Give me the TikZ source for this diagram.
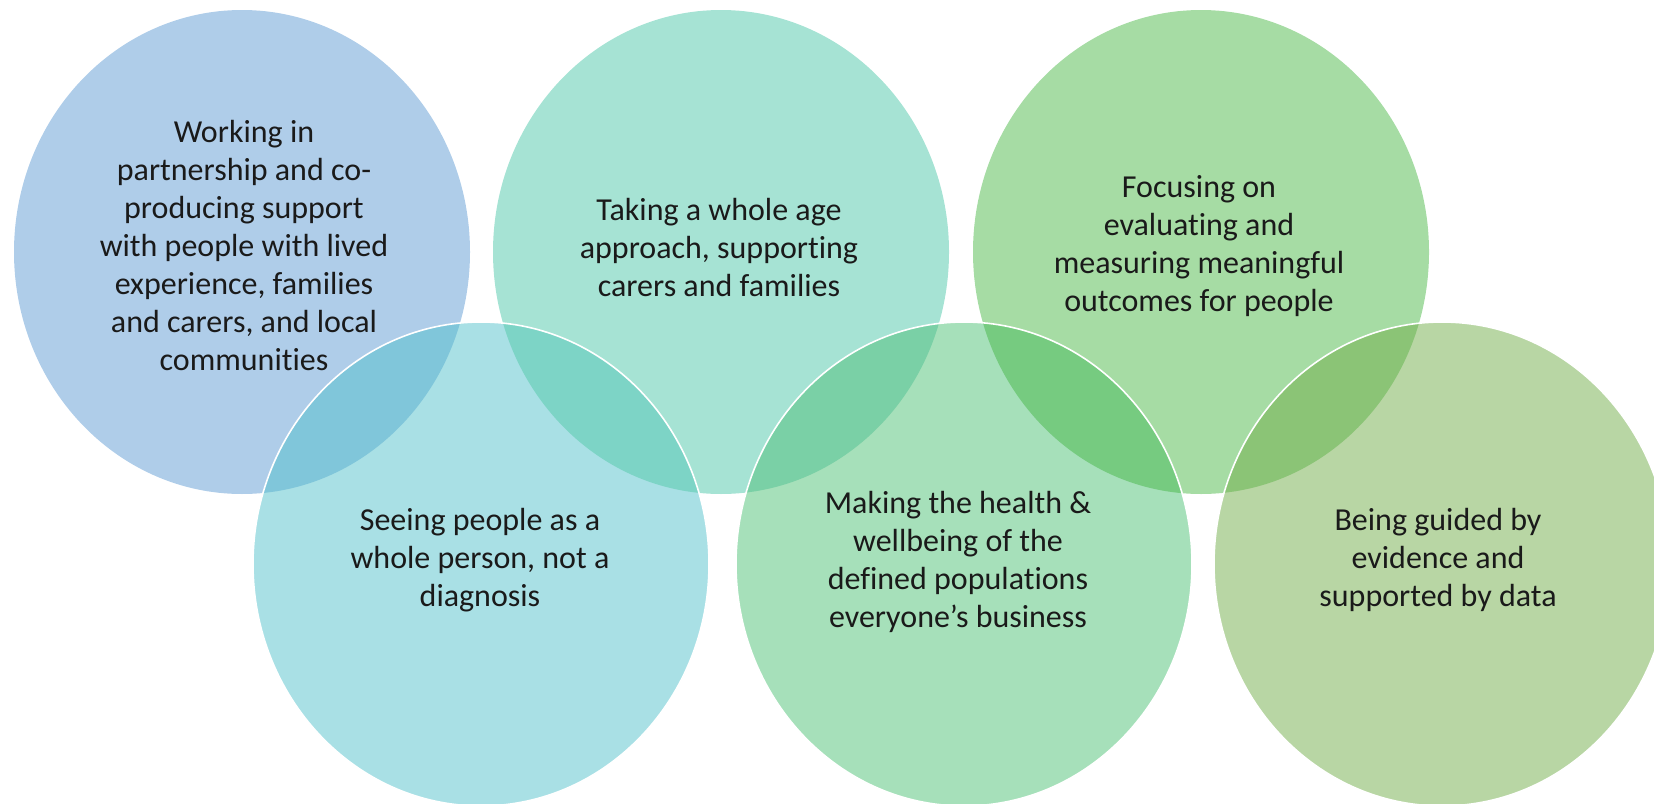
\documentclass[tikz,border=0pt]{standalone}
\usepackage{fontspec}
\setmainfont{Carlito}[Ligatures=NoCommon]
\usetikzlibrary{shapes.geometric}
\definecolor{cA}{HTML}{AFCDE9}
\definecolor{cB}{HTML}{A6E3D4}
\definecolor{cC}{HTML}{A6DCA4}
\definecolor{cD}{HTML}{A9E0E5}
\definecolor{cE}{HTML}{A6E0BA}
\definecolor{cF}{HTML}{B8D6A4}
\definecolor{lAD}{HTML}{80C6DA}
\definecolor{lBD}{HTML}{7DD4C6}
\definecolor{lBE}{HTML}{7AD0A6}
\definecolor{lCE}{HTML}{76CB80}
\definecolor{lCF}{HTML}{8BC476}
\definecolor{txt}{HTML}{1A1A1A}
\tikzset{
  bubble/.style={ellipse, minimum width=456pt, minimum height=484pt, inner sep=0pt},
  label text/.style={text=txt, align=center, font=\fontsize{32}{38}\selectfont},
  rimline/.style={draw=white, line width=1.6pt}
}
\begin{document}
\begin{tikzpicture}[x=1pt,y=-1pt]
\useasboundingbox (0,0) rectangle (1654,803);
\clip (0,0) rectangle (1654,803);
% top row
\node[bubble, fill=cA] (n1) at (242,252) {};
\node[bubble, fill=cB] (n2) at (721,252) {};
\node[bubble, fill=cC] (n3) at (1201,252) {};
% bottom row
\node[bubble, fill=cD] (n4) at (481,564) {};
\node[bubble, fill=cE] (n5) at (964,564) {};
\node[bubble, fill=cF] (n6) at (1442,564) {};
% overlaps
\begin{scope}
  \clip (242,252) ellipse [x radius=228pt, y radius=242pt];
  \fill[lAD] (481,564) ellipse [x radius=228pt, y radius=242pt];
\end{scope}
\begin{scope}
  \clip (721,252) ellipse [x radius=228pt, y radius=242pt];
  \fill[lBD] (481,564) ellipse [x radius=228pt, y radius=242pt];
  \fill[lBE] (964,564) ellipse [x radius=228pt, y radius=242pt];
\end{scope}
\begin{scope}
  \clip (1201,252) ellipse [x radius=228pt, y radius=242pt];
  \fill[lCE] (964,564) ellipse [x radius=228pt, y radius=242pt];
  \fill[lCF] (1442,564) ellipse [x radius=228pt, y radius=242pt];
\end{scope}
% white rims of the lower bubbles
\draw[rimline] (481,564) ellipse [x radius=228pt, y radius=242pt];
\draw[rimline] (964,564) ellipse [x radius=228pt, y radius=242pt];
\draw[rimline] (1442,564) ellipse [x radius=228pt, y radius=242pt];
% texts
\node[label text] (t1) at (244,246) {Working in\\partnership and co-\\producing support\\with people with lived\\experience, families\\and carers, and local\\communities};
\node[label text] (t2) at (719,248) {Taking a whole age\\approach, supporting\\carers and families};
\node[label text] (t3) at (1199,246) {Focusing on\\evaluating and\\measuring meaningful\\outcomes for people};
\node[label text] (t4) at (480,560) {Seeing people as a\\whole person, not a\\diagnosis};
\node[label text] (t5) at (958,562) {Making the health \&\\wellbeing of the\\defined populations\\everyone’s business};
\node[label text] (t6) at (1438,560) {Being guided by\\evidence and\\supported by data};
\end{tikzpicture}
\end{document}
